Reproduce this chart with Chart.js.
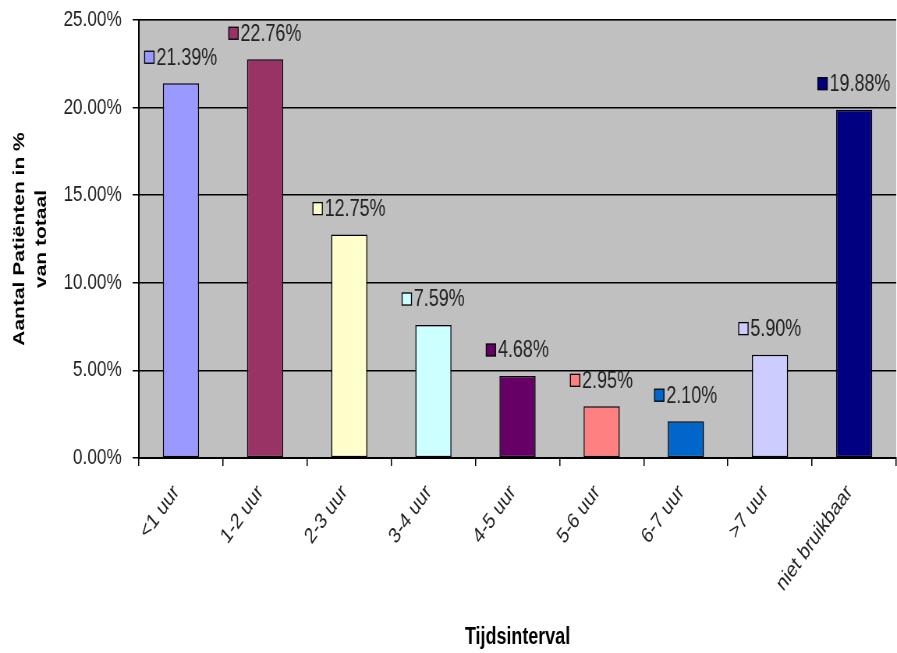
<!DOCTYPE html>
<html>
<head>
    <title>Tijdsinterval</title>
    <script src="https://cdn.jsdelivr.net/npm/chart.js"></script>
    <style>
        html, body { margin: 0; padding: 0; background: #fff; overflow: hidden; }
        /* het origineel is horizontaal samengedrukt: teken breder en schaal terug */
        #wrap { width: 1150px; height: 653px; transform: scaleX(0.78); transform-origin: 0 0; }
    </style>
</head>
<body>
<div id="wrap">
    <canvas id="myChart" width="1150" height="653"></canvas>
</div>
<script>
    // gegevens
    const categories = ['<1 uur', '1-2 uur', '2-3 uur', '3-4 uur', '4-5 uur', '5-6 uur', '6-7 uur', '>7 uur', 'niet bruikbaar'];
    const percentages = [21.39, 22.76, 12.75, 7.59, 4.68, 2.95, 2.10, 5.90, 19.88];
    const barColors = ['#9999FF', '#993366', '#FFFFCC', '#CCFFFF', '#660066', '#FF8080', '#0066CC', '#CCCCFF', '#000080'];
    const yTicks = [0, 5, 10, 15, 20, 25];

    const fontFamily = "'Liberation Sans', Arial, sans-serif";

    // grijze achtergrond van het plotgebied
    const plotBackground = {
        id: 'plotBackground',
        beforeDraw(chart) {
            const { ctx, chartArea } = chart;
            ctx.save();
            ctx.fillStyle = '#C0C0C0';
            ctx.fillRect(chartArea.left, chartArea.top, chartArea.right - chartArea.left, chartArea.bottom - chartArea.top);
            ctx.strokeStyle = '#808080';
            ctx.lineWidth = 1.5;
            ctx.beginPath();
            ctx.moveTo(chartArea.left, chartArea.top);
            ctx.lineTo(chartArea.right, chartArea.top);
            ctx.stroke();
            ctx.restore();
        }
    };

    // waardelabels met legendasleutel
    const valueLabels = {
        id: 'valueLabels',
        afterDatasetsDraw(chart) {
            const { ctx } = chart;
            const meta = chart.getDatasetMeta(0);
            ctx.save();
            ctx.font = '23px ' + fontFamily;
            ctx.textBaseline = 'middle';
            ctx.textAlign = 'left';
            meta.data.forEach((bar, i) => {
                const text = percentages[i].toFixed(2) + '%';
                const tw = ctx.measureText(text).width;
                const boxW = 12, boxH = 12, gap = 3;
                const total = boxW + gap + tw;
                const x0 = bar.x - total / 2;
                const y = bar.y - 26;
                ctx.fillStyle = barColors[i];
                ctx.fillRect(x0, y - boxH / 2, boxW, boxH);
                ctx.strokeStyle = '#000';
                ctx.lineWidth = 1.3;
                ctx.strokeRect(x0, y - boxH / 2, boxW, boxH);
                ctx.fillStyle = '#222';
                ctx.fillText(text, x0 + boxW + gap, y + 1);
            });
            ctx.restore();
        }
    };

    const ctx = document.getElementById('myChart').getContext('2d');
    const myChart = new Chart(ctx, {
        type: 'bar',
        data: {
            labels: categories,
            datasets: [{
                data: percentages,
                backgroundColor: barColors,
                borderColor: '#000',
                borderWidth: 1.5,
                borderSkipped: false,
                barPercentage: 0.43,
                categoryPercentage: 1.0
            }]
        },
        options: {
            responsive: false,
            animation: false,
            layout: { padding: { top: 20, right: 1, left: 0, bottom: 0 } },
            plugins: {
                legend: { display: false },
                tooltip: { enabled: false }
            },
            scales: {
                y: {
                    min: 0,
                    max: 25,
                    afterBuildTicks: scale => { scale.ticks = yTicks.map(v => ({ value: v })); },
                    afterFit: scale => {
                        scale.width = 178;
                        scale.paddingTop = 0;
                        scale.paddingBottom = 0;
                    },
                    grid: { color: '#000', lineWidth: 1.5, tickLength: 8 },
                    border: { color: '#000', width: 2 },
                    ticks: {
                        color: '#222',
                        padding: 14,
                        font: { family: fontFamily, size: 22 },
                        callback: v => v.toFixed(2) + '%'
                    },
                    title: {
                        display: true,
                        text: ['Aantal Patiënten in %', 'van totaal'],
                        color: '#000',
                        font: { family: fontFamily, size: 21, weight: 'bold', lineHeight: 1.3 },
                        padding: { top: 12, bottom: 0 }
                    }
                },
                x: {
                    afterFit: scale => { scale.height = 195; },
                    grid: { drawOnChartArea: false, color: '#000', tickLength: 8, lineWidth: 1.5 },
                    border: { color: '#000', width: 2 },
                    ticks: {
                        color: '#222',
                        autoSkip: false,
                        minRotation: 48,
                        maxRotation: 48,
                        padding: 14,
                        labelOffset: -6,
                        font: { family: fontFamily, size: 22 }
                    },
                    title: {
                        display: true,
                        text: 'Tijdsinterval',
                        color: '#000',
                        font: { family: fontFamily, size: 23, weight: 'bold' },
                        padding: { top: 0, bottom: 2 }
                    }
                }
            }
        },
        plugins: [plotBackground, valueLabels]
    });
</script>
</body>
</html>
